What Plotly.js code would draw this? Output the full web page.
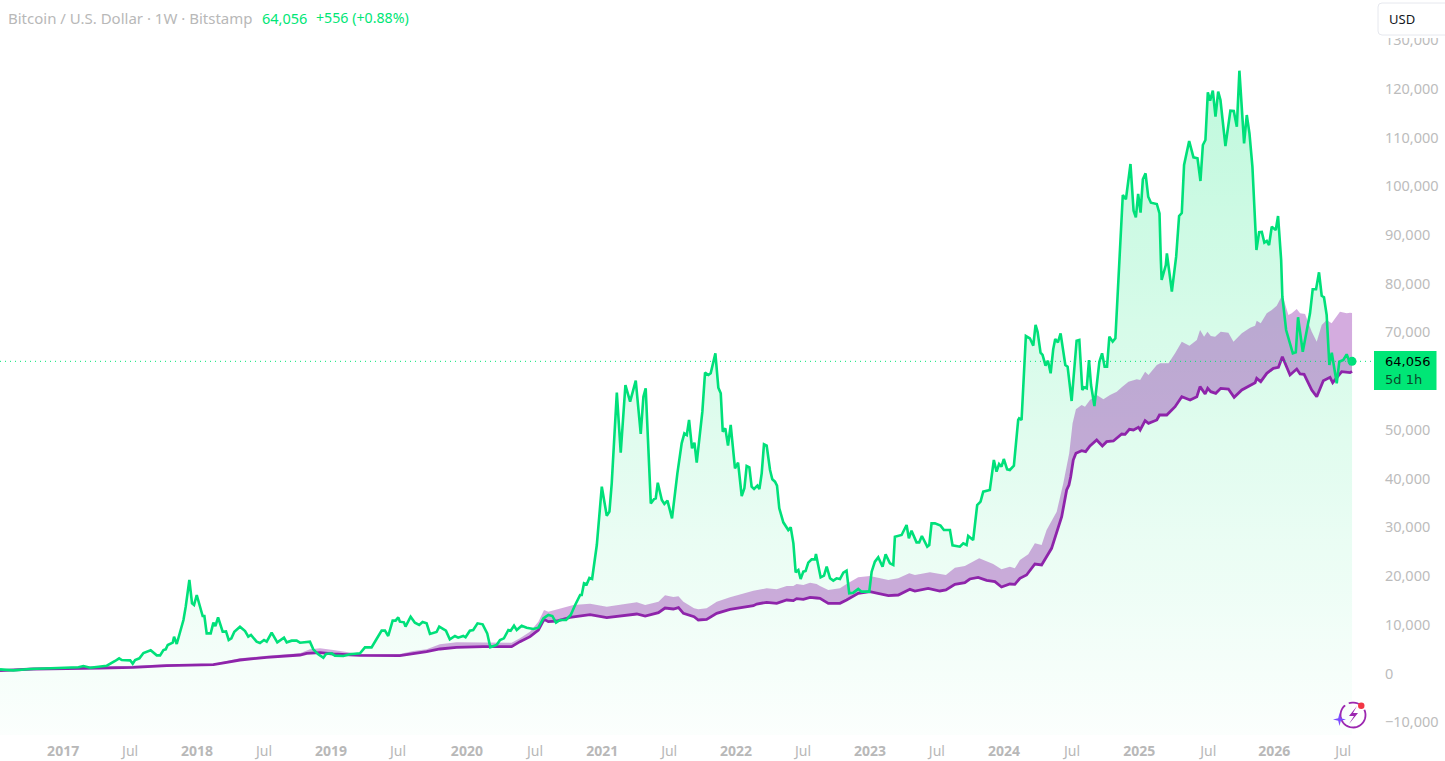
<!DOCTYPE html>
<html>
<head>
<meta charset="utf-8">
<script src="https://cdn.plot.ly/plotly-3.0.1.min.js"></script>
<style>html,body{margin:0;padding:0;background:#fff;overflow:hidden}#chart{width:1445px;height:761px}</style>
</head>
<body>
<div id="chart"></div>
<script>
// Dates are decimal years; prices in USD.
const priceYears = [2016.531,2016.630,2016.754,2016.978,2017.114,2017.151,2017.201,2017.263,2017.325,2017.387,2017.417,2017.437,2017.499,2017.518,2017.536,2017.568,2017.598,2017.652,2017.697,2017.722,2017.747,2017.764,2017.779,2017.816,2017.826,2017.846,2017.866,2017.896,2017.913,2017.940,2017.960,2017.975,2017.995,2018.020,2018.039,2018.052,2018.069,2018.099,2018.119,2018.134,2018.154,2018.188,2018.213,2018.233,2018.253,2018.275,2018.317,2018.355,2018.379,2018.399,2018.441,2018.466,2018.496,2018.516,2018.553,2018.595,2018.645,2018.665,2018.702,2018.739,2018.764,
2018.838,2018.863,2018.900,2018.938,2018.958,2019.000,2019.024,2019.087,2019.136,2019.211,2019.248,2019.297,2019.330,2019.372,2019.397,2019.421,2019.454,2019.476,2019.496,2019.508,2019.538,2019.550,2019.588,2019.620,2019.652,2019.677,2019.707,2019.732,2019.781,2019.801,2019.851,2019.880,2019.918,2019.942,2019.980,2019.997,2020.029,2020.054,2020.086,2020.124,2020.158,2020.181,2020.228,2020.253,2020.282,2020.315,2020.332,2020.357,2020.377,2020.414,2020.451,2020.501,2020.538,2020.575,2020.612,2020.642,2020.669,2020.699,2020.744,2020.778,2020.811,2020.848,
2020.860,2020.877,2020.897,2020.917,2020.937,2020.972,2021.009,2021.046,2021.066,2021.083,2021.121,2021.150,2021.185,2021.220,2021.262,2021.299,2021.319,2021.336,2021.374,2021.399,2021.411,2021.426,2021.456,2021.475,2021.498,2021.532,2021.572,2021.604,2021.624,2021.642,2021.659,2021.681,2021.699,2021.716,2021.758,2021.778,2021.803,2021.820,2021.855,2021.877,2021.895,2021.910,2021.929,2021.949,2021.969,2022.001,2022.024,2022.051,2022.071,2022.088,2022.108,2022.125,2022.143,2022.168,2022.183,2022.200,2022.217,2022.237,2022.262,2022.279,2022.299,2022.314,2022.331,2022.361,2022.398,2022.416,2022.436,2022.453,2022.473,2022.490,2022.510,2022.527,2022.547,2022.572,2022.597,2022.604,2022.639,2022.664,2022.684,2022.709,2022.733,2022.758,2022.783,
2022.808,2022.832,2022.852,2022.882,2022.919,2022.944,2023.001,2023.019,2023.043,2023.068,2023.100,2023.123,2023.155,2023.180,2023.192,2023.242,2023.279,2023.296,2023.316,2023.353,2023.373,2023.393,2023.433,2023.448,2023.465,2023.490,2023.532,2023.557,2023.602,2023.621,2023.676,2023.701,2023.726,2023.738,2023.775,2023.805,2023.830,2023.850,2023.899,
2023.929,2023.949,2023.968,2023.986,2024.003,2024.028,2024.048,2024.078,2024.110,2024.117,2024.135,2024.167,2024.197,2024.222,2024.239,2024.254,2024.276,2024.291,2024.313,2024.331,2024.351,2024.370,2024.385,2024.405,2024.425,2024.460,2024.477,2024.507,2024.544,2024.564,2024.586,2024.601,2024.619,2024.636,2024.651,2024.676,2024.713,2024.733,2024.752,2024.770,2024.787,2024.812,2024.832,2024.842,
2024.862,2024.887,2024.910,2024.944,2024.967,2024.984,2025.001,2025.019,2025.036,2025.056,2025.076,2025.096,2025.140,2025.160,2025.170,2025.176,2025.207,2025.215,2025.252,2025.284,2025.306,2025.326,2025.343,2025.381,2025.413,2025.443,2025.465,2025.483,2025.502,2025.520,2025.537,2025.557,2025.577,2025.597,2025.614,2025.651,2025.688,2025.713,2025.736,2025.755,2025.790,2025.810,2025.830,2025.852,2025.882,2025.902,2025.922,2025.941,2025.959,2025.976,2025.996,2026.026,2026.043,2026.066,2026.075,2026.103,2026.153,2026.175,2026.192,2026.227,2026.281,2026.301,2026.326,2026.348,2026.368,2026.385,2026.405,2026.425,2026.443,2026.480,2026.499,2026.529,2026.554,2026.579,2026.594];
const priceUsd = [855,650,923,1128,1265,1539,1197,1402,1607,2565,3112,2770,2702,2018,2770,3112,4207,4754,3728,3728,4822,4959,5848,6327,7558,6053,7900,10978,13714,19186,14398,14056,16108,13372,11799,11799,8242,8242,10431,9747,11525,8584,8652,6874,7216,8584,9610,8721,7558,7900,6532,6258,6874,6532,8379,6395,7353,6395,6737,6737,6327,
6532,4959,3933,3249,3998,4138,3659,3591,3933,4138,5369,5369,6874,8789,8789,7695,10841,10841,11525,10636,10499,9610,11662,10431,9952,10568,10294,8105,8516,9610,8789,7011,7695,7353,7695,7421,8789,8926,10294,10089,8242,5369,5848,6874,7216,8926,8789,9815,8926,9815,9405,9131,9405,11320,12004,11799,10431,10978,10978,12004,14056,16108,
16108,18502,18297,19596,19391,26368,38338,32387,33208,39022,57627,45315,59200,55780,60089,49145,56806,58516,34918,35807,35944,39159,35602,34781,35465,31840,41074,47230,49282,48940,52018,46204,47367,43263,53728,61731,61252,61594,65698,58653,57490,49624,50308,46751,50992,42100,43263,36423,37996,42579,42305,38338,37859,38543,37859,41074,47025,46751,41758,39843,39364,38543,33892,31019,29446,29993,26710,20759,21238,19391,20896,21033,22743,23427,23427,24521,19733,20076,21922,19528,19049,19528,19391,
20691,21101,16450,16587,17339,16792,16792,20896,22948,23837,21922,24453,22606,22264,28078,28420,30472,27736,29309,26915,26915,28215,26026,26368,30814,30814,30335,29446,29446,26300,26026,26710,26368,28215,27394,34576,35260,37312,37654,
43810,41416,42989,42442,44015,41895,41758,42647,52018,52360,52018,69255,68776,67271,71512,70144,65835,65356,63167,64193,61594,66519,68639,67955,69802,63304,62962,55917,68297,68434,58174,58721,58516,64330,59200,54891,63988,65698,62962,62962,69118,68092,68776,74590,
84850,98188,97299,104549,94973,93605,98393,94563,101403,102634,97846,96615,96341,94426,84850,80746,83824,86225,78345,85527,93879,94494,104344,109269,105924,105719,101061,108449,109475,119262,117538,119590,114255,119385,117683,108243,115487,115425,112203,123695,108797,114604,110849,103995,86902,90534,90596,88400,88749,87928,91683,91006,93879,84852,77319,70487,65705,65910,73092,66033,73913,78838,78838,82326,77525,77197,73565,63304,65828,59549,63981,64330,65499,63653,64056];

const lowerYears = [2016.531,2016.779,2017.275,2017.523,2017.771,2017.995,2018.119,2018.218,2018.317,2018.516,2018.764,2018.814,2018.913,2019.012,2019.211,2019.508,2019.608,2019.707,2019.806,2019.930,2020.128,2020.339,2020.401,2020.476,2020.538,2020.580,2020.612,2020.674,2020.773,2020.848,2020.922,2021.046,2021.170,2021.270,2021.332,2021.394,2021.431,2021.480,2021.542,2021.580,2021.617,2021.696,2021.728,2021.790,2021.865,2021.964,2022.138,2022.163,2022.237,2022.312,2022.386,2022.436,2022.460,2022.510,2022.560,2022.609,2022.634,2022.696,2022.783,2022.832,2022.919,2023.006,2023.143,2023.217,2023.304,2023.341,2023.440,2023.527,2023.572,2023.639,2023.713,2023.750,2023.812,2023.875,2023.937,2023.986,2024.048,2024.085,2024.123,2024.172,2024.234,2024.284,2024.321,2024.358,2024.433,2024.470,2024.487,2024.500,2024.519,2024.539,2024.581,2024.611,2024.643,2024.693,2024.735,2024.767,2024.817,2024.879,2024.904,2024.936,2024.966,2025.003,2025.016,2025.053,2025.078,2025.140,2025.160,2025.214,2025.276,2025.326,2025.388,2025.438,2025.462,2025.500,2025.519,2025.542,2025.579,2025.616,2025.673,2025.716,2025.773,2025.835,2025.872,2025.884,2025.914,2025.959,2026.008,2026.046,2026.075,2026.132,2026.182,2026.207,2026.237,2026.294,2026.331,2026.380,2026.430,2026.450,2026.480,2026.517,2026.579,2026.594];
const lowerUsd = [581,923,1128,1265,1607,1744,1812,2291,2770,3317,3796,4138,4275,4001,3728,3659,4001,4480,5027,5369,5506,5506,6532,7558,8926,11115,10636,10773,11525,11867,12072,11457,11799,12209,11799,12278,12483,13440,13235,13509,12346,11662,10978,11115,12346,13167,13919,14261,14603,14398,15082,14945,15356,15219,15629,15492,15424,14398,14398,15082,16450,16792,15971,16108,17271,16929,17476,16929,17134,18297,18639,19391,19733,19118,18844,17749,18365,18297,19528,20212,22469,22264,23974,25684,32182,37654,38680,40384,43810,45178,45725,45520,46683,47914,46683,47572,47709,49145,49077,50103,49966,50513,49966,51881,51334,52018,53044,53044,54754,56806,56122,56806,58858,57353,58516,57832,57490,58516,58379,56669,58174,59200,59679,60568,59884,61594,62620,62825,65014,61252,62483,61457,61389,58174,56806,60089,60773,59679,60704,61936,61731,62000];

const upperYears = [2016.531,2016.779,2017.275,2017.523,2017.771,2018.119,2018.218,2018.317,2018.516,2018.764,2018.838,2018.913,2019.012,2019.136,2019.211,2019.508,2019.608,2019.707,2019.806,2019.930,2020.128,2020.339,2020.401,2020.476,2020.538,2020.580,2020.612,2020.699,2020.798,2020.922,2021.046,2021.170,2021.270,2021.332,2021.394,2021.431,2021.480,2021.542,2021.580,2021.617,2021.696,2021.728,2021.790,2021.865,2021.964,2022.138,2022.237,2022.312,2022.386,2022.436,2022.460,2022.510,2022.560,2022.609,2022.634,2022.696,2022.783,2022.832,2022.919,2023.006,2023.143,2023.217,2023.299,2023.341,2023.453,2023.572,2023.639,2023.713,2023.820,2023.924,2023.986,2024.048,2024.085,2024.123,2024.185,2024.234,2024.284,2024.321,2024.396,2024.445,2024.489,2024.514,2024.539,2024.581,2024.606,2024.643,2024.693,2024.743,2024.792,2024.842,2024.879,2024.929,2024.991,2025.016,2025.053,2025.078,2025.140,2025.165,2025.227,2025.276,2025.326,2025.383,2025.438,2025.462,2025.492,2025.517,2025.542,2025.574,2025.616,2025.673,2025.711,2025.773,2025.835,2025.872,2025.884,2025.914,2025.959,2025.996,2026.033,2026.075,2026.120,2026.145,2026.182,2026.207,2026.244,2026.294,2026.331,2026.368,2026.405,2026.442,2026.504,2026.554,2026.579,2026.594];
const upperUsd = [855,1060,1265,1539,1881,2018,2565,3112,3659,4138,4959,5164,4822,4275,3993,3993,4617,4959,5985,6395,6327,6327,7216,8584,10636,13030,12688,13372,14056,14330,13714,14193,14603,14056,14398,14740,16040,15698,15834,14740,13372,13167,13372,14740,15629,16997,17476,17271,17955,17955,18365,18160,18639,18365,17955,17134,17476,18365,19733,20007,19186,19528,20554,20212,20759,20212,21717,22059,23632,22469,21376,21922,21580,23290,24453,26710,26368,29446,33208,39022,45178,51334,54207,55096,54754,56122,57148,56259,57148,57832,58721,59884,60363,60226,61936,61252,63304,63646,63646,65698,68092,67271,68434,70486,69118,70144,69255,69118,70144,69939,68092,69802,70965,71375,72401,71854,73906,74590,75479,77668,73564,73906,74795,73906,73769,70144,68092,71512,72538,71854,74248,73906,74043,74000];

// The reference axis is spaced by bars, so its labels sit a little off the calendar.
const tickYears = [2017,2017.499,2017.997,2018.496,2018.995,2019.494,2020.007,2020.513,2021.012,2021.511,2022.009,2022.508,2023.007,2023.505,2024.004,2024.510,2025.009,2025.523,2026.014,2026.528];
const tickNames = ['2017','Jul','2018','Jul','2019','Jul','2020','Jul','2021','Jul','2022','Jul','2023','Jul','2024','Jul','2025','Jul','2026','Jul'];
const priceTicks = [-10000,0,10000,20000,30000,40000,50000,70000,80000,90000,100000,110000,120000,130000];
const lastPrice = 64056;
const headerName = 'Bitcoin / U.S. Dollar · 1W · Bitstamp';
const headerPrice = '64,056';
const headerChange = '+556 (+0.88%)';

const W = 1375, H = 735;
const yearRange = [2016.531, 2026.765];
const valueRange = [-12620, 138202];

function toDate(y){
  const yr = Math.floor(y);
  const a = Date.UTC(yr,0,1), b = Date.UTC(yr+1,0,1);
  return new Date(a + (y-yr)*(b-a)).toISOString().slice(0,19).replace('T',' ');
}
const px = x => x/W, py = y => 1 - y/H;
const FONT = '"Noto Sans", sans-serif';
const BOXFONT = '"DejaVu Sans", sans-serif';
const GREEN = '#00e07a', PURPLE = '#8e24aa';

const priceX = priceYears.map(toDate);
const lowerX = lowerYears.map(toDate);
const upperX = upperYears.map(toDate);
const floorX = [priceX[0], priceX[priceX.length-1]];

const traces = [
  {x:floorX, y:[valueRange[0],valueRange[0]], mode:'lines', line:{width:0}, hoverinfo:'skip', showlegend:false},
  {x:priceX, y:priceUsd, mode:'lines', line:{width:0, color:GREEN}, fill:'tonexty', hoverinfo:'skip', showlegend:false,
   fillgradient:{type:'vertical', start:valueRange[0], stop:123695,
     colorscale:[[0,'rgba(0,230,118,0.015)'],[1,'rgba(0,230,118,0.25)']]}},
  {x:lowerX, y:lowerUsd, mode:'lines', line:{width:0}, hoverinfo:'skip', showlegend:false},
  {x:upperX, y:upperUsd, mode:'lines', line:{width:0}, fill:'tonexty', fillcolor:'rgba(142,36,170,0.38)', hoverinfo:'skip', showlegend:false},
  {x:lowerX, y:lowerUsd, mode:'lines', line:{width:2.8, color:PURPLE}, hoverinfo:'skip', showlegend:false},
  {x:priceX, y:priceUsd, mode:'lines', line:{width:2.6, color:GREEN}, hoverinfo:'skip', showlegend:false},
  {x:[priceX[priceX.length-1]], y:[lastPrice], mode:'markers', marker:{size:9, color:GREEN}, hoverinfo:'skip', showlegend:false}
];

// small decorative logo and label boxes, placed in page pixels
function poly(points, close){
  return points.map((p,i)=>(i?'L':'M')+px(p[0]).toFixed(5)+','+py(p[1]).toFixed(5)).join(' ')+(close?' Z':'');
}
function arc(cx,cy,r,a0,a1){
  const out=[]; for(let a=a0;a<=a1;a+=8){const t=a*Math.PI/180; out.push([cx+r*Math.cos(t),cy+r*Math.sin(t)]);}
  return out;
}
function star(cx,cy,r){
  const out=[]; for(let i=0;i<8;i++){const t=i*Math.PI/4, q=i%2?r*0.28:r; out.push([cx+q*Math.sin(t),cy-q*Math.cos(t)]);}
  return out;
}
const shp = (path,extra)=>Object.assign({type:'path',xref:'paper',yref:'paper',path,layer:'above',line:{width:0}},extra);
const shapes = [
  {type:'line',xref:'paper',yref:'y',x0:0,x1:1,y0:lastPrice,y1:lastPrice,layer:'above',line:{color:'#00e676',width:1,dash:'1px,4px'}},
  // white strip that cuts the top tick label, then the USD box
  {type:'rect',xref:'paper',yref:'paper',x0:px(1376),x1:px(1445),y0:py(0),y1:py(38),fillcolor:'#ffffff',line:{width:0},layer:'above'},
  shp('M'+px(1382)+','+py(3)+' L'+px(1450)+','+py(3)+' L'+px(1450)+','+py(35)+' L'+px(1382)+','+py(35)+' Q'+px(1378)+','+py(35)+' '+px(1378)+','+py(31)+' L'+px(1378)+','+py(7)+' Q'+px(1378)+','+py(3)+' '+px(1382)+','+py(3)+' Z',
    {fillcolor:'#ffffff',line:{color:'#e6e8ee',width:1}}),
  // current price box
  {type:'rect',xref:'paper',yref:'paper',x0:px(1374),x1:px(1436.5),y0:py(351),y1:py(390),fillcolor:'#00e676',line:{width:0},layer:'above'},
  // logo
  shp(poly(arc(1353,715,12.5,-25,235)),{line:{color:'#9c27b0',width:1.8}}),
  shp(poly(arc(1353,715,12.5,250,300)),{line:{color:'#9c27b0',width:1.8}}),
  shp(poly([[1357,706],[1349,716],[1354,716],[1349,724],[1358,713],[1353,713]],true),{fillcolor:'#9c27b0'}),
  shp(poly(star(1339.5,719.5,6.5),true),{fillcolor:'#7c4dff'}),
  {type:'circle',xref:'paper',yref:'paper',x0:px(1358),x1:px(1364.5),y0:py(709),y1:py(702.5),fillcolor:'#f23645',line:{width:0},layer:'above'}
];

const note = (text,x,y,color,size,family) => ({text,xref:'paper',yref:'paper',x:px(x),y:py(y),xanchor:'left',yanchor:'middle',showarrow:false,
  font:{family:family||FONT,size:size||14.5,color},borderpad:0,borderwidth:0});
const annotations = [
  note(headerName,8,18,'#b8b8b8',15),
  note(headerPrice,262,18,'#00e676'),
  note(headerChange,316,18,'#00e676',14.2),
  note('USD',1389,19,'#131722',13),
  note('64,056',1385,361,'#000000',13,BOXFONT),
  note('5d 1h',1385,379,'#0b4a2c',13,BOXFONT)
];

const layout = {
  width:1445, height:761,
  margin:{l:0,r:70,t:0,b:26,pad:0},
  paper_bgcolor:'#ffffff', plot_bgcolor:'#ffffff',
  showlegend:false, hovermode:false,
  font:{family:FONT,size:14.5,color:'#c4c4c4'},
  xaxis:{type:'date',range:yearRange.map(toDate),tickmode:'array',
    tickvals:tickYears.map(toDate),
    ticktext:tickNames.map(t=>t==='Jul'?t:'<b>'+t+'</b>'),
    showgrid:false,zeroline:false,showline:false,ticks:'outside',ticklen:3,tickcolor:'rgba(0,0,0,0)',
    tickfont:{family:FONT,size:14,color:'#b8b8b8'},tickangle:0,fixedrange:true},
  yaxis:{range:valueRange,side:'right',tickmode:'array',
    tickvals:priceTicks,
    ticktext:priceTicks.map(v=>(v<0?'\u2212':'')+Math.abs(v).toLocaleString('en-US')),
    showgrid:false,zeroline:false,showline:false,ticks:'outside',ticklen:6,tickcolor:'rgba(0,0,0,0)',
    tickfont:{family:FONT,size:14.5,color:'#bcbcbc'},fixedrange:true},
  shapes, annotations
};
Plotly.newPlot('chart',traces,layout,{displayModeBar:false,staticPlot:true});
</script>
</body>
</html>
